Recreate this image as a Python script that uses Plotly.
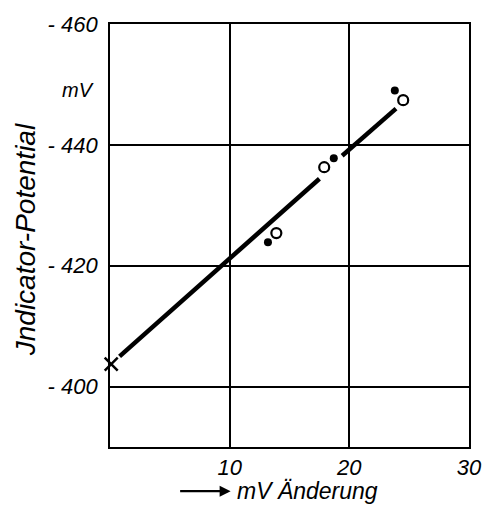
import plotly.graph_objects as go

# Data (mV Änderung vs Indicator-Potential in mV)
cross_x = [0.1]
cross_y = [-403.7]

line_x = [0.8, 17.5, None, 19.4, 23.9]
line_y = [-405.0, -434.4, None, -438.2, -446.0]

filled_x = [13.2, 18.7, 23.8]
filled_y = [-423.9, -437.8, -449.0]

open_x = [13.9, 17.9, 24.5]
open_y = [-425.4, -436.3, -447.4]

x_ticks = [10, 20, 30]
x_ticktext = ["10", "20", "30"]
y_ticks = [-460, -440, -420, -400]
y_ticktext = ["- 460", "- 440", "- 420", "- 400"]

FONT = "Liberation Sans"
BLACK = "black"

fig = go.Figure()
fig.add_trace(go.Scatter(x=line_x, y=line_y, mode="lines",
                         line=dict(color=BLACK, width=4.5), showlegend=False))
fig.add_trace(go.Scatter(x=cross_x, y=cross_y, mode="markers",
                         marker=dict(symbol="x-thin", size=13, color=BLACK,
                                     line=dict(color=BLACK, width=2.5)),
                         showlegend=False, cliponaxis=False))
fig.add_trace(go.Scatter(x=filled_x, y=filled_y, mode="markers",
                         marker=dict(symbol="circle", size=8, color=BLACK),
                         showlegend=False))
fig.add_trace(go.Scatter(x=open_x, y=open_y, mode="markers",
                         marker=dict(symbol="circle-open", size=10, color=BLACK,
                                     line=dict(color=BLACK, width=2.2)),
                         showlegend=False))

W, H = 494, 510
L, R, T, B = 110, 15, 16, 63
pw, ph = W - L - R, H - T - B

def px(x):
    return (x - L) / pw

def py(y):
    return 1 - (y - T) / ph

tickfont = dict(family=FONT, size=22, style="italic", color=BLACK)

fig.update_layout(
    width=W, height=H,
    margin=dict(l=L, r=R, t=T, b=B),
    paper_bgcolor="white", plot_bgcolor="white",
    font=dict(family=FONT, color=BLACK, size=17, style="italic"),
    xaxis=dict(range=[0, 30], tickvals=x_ticks, ticktext=x_ticktext,
               showgrid=True, gridcolor=BLACK, gridwidth=1.6,
               showline=True, linecolor=BLACK, linewidth=1.8, mirror=True,
               zeroline=False, ticks="", ticklen=0, ticklabelstandoff=0,
               tickfont=tickfont),
    yaxis=dict(range=[-390, -460], tickvals=y_ticks, ticktext=y_ticktext,
               showgrid=True, gridcolor=BLACK, gridwidth=1.6,
               showline=True, linecolor=BLACK, linewidth=1.8, mirror=True,
               zeroline=False, ticks="", ticklen=0, ticklabelstandoff=6,
               tickfont=tickfont),
    annotations=[
        dict(text="mV", xref="paper", yref="paper", x=px(77), y=py(83),
             xanchor="center", yanchor="middle", showarrow=False,
             font=dict(family=FONT, size=20, style="italic", color=BLACK)),
        dict(text="Jndicator-Potential", xref="paper", yref="paper",
             x=px(24), y=py(236), xanchor="center", yanchor="middle",
             textangle=-90, showarrow=False,
             font=dict(family=FONT, size=28, style="italic", color=BLACK)),
        dict(text="mV Änderung", xref="paper", yref="paper",
             x=px(238), y=py(492), xanchor="left", yanchor="middle",
             showarrow=False,
             font=dict(family=FONT, size=23, style="italic", color=BLACK)),
        dict(text="", xref="paper", yref="paper", x=px(234), y=py(492),
             ax=-52, ay=0, showarrow=True, arrowhead=2, arrowsize=1.0,
             arrowwidth=2.2, arrowcolor=BLACK),
    ],
)

fig.write_html("out.html")
